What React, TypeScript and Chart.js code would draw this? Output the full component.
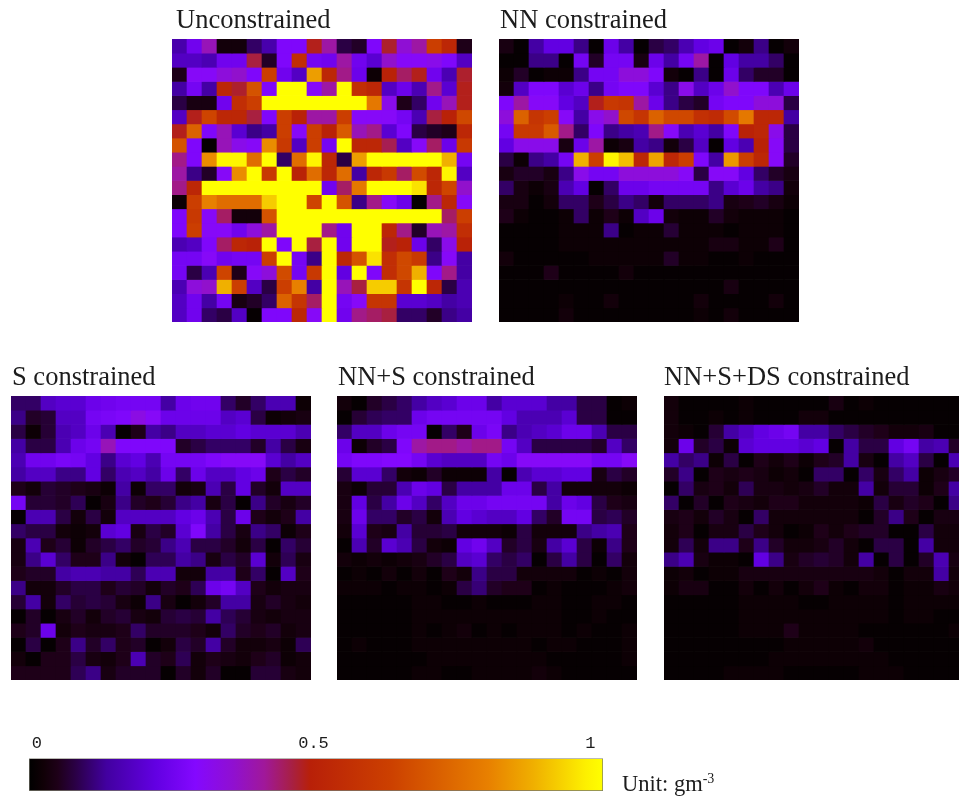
import React, { useEffect, useRef } from "react";
import { Chart, registerables } from "chart.js";

Chart.register(...registerables);

const columns = ["1","2","3","4","5","6","7","8","9","10","11","12","13","14","15","16","17","18","19","20"];

// Cell values in percent of 1 g/m3, row 0 is the top row.
const unconstrained = [
[15,25,38,3,3,10,15,28,28,48,40,8,6,28,47,35,40,62,52,5],
[18,18,16,25,25,46,6,28,55,26,25,40,25,20,36,30,30,32,28,18],
[5,30,30,34,36,28,62,25,18,85,52,42,24,2,50,44,48,25,16,47],
[14,26,14,52,47,68,28,100,100,30,40,100,55,52,18,24,16,42,20,48],
[8,4,4,25,55,62,100,100,100,100,100,100,100,78,32,5,10,25,38,48],
[18,48,64,52,52,46,28,62,50,40,40,62,30,30,30,26,16,46,50,65],
[48,72,28,38,20,12,14,62,30,62,50,70,38,42,20,28,8,6,5,52],
[68,28,1,38,32,30,82,60,18,62,26,100,52,52,45,18,30,44,24,60],
[42,28,82,98,98,75,100,10,75,98,52,8,85,100,100,100,100,100,88,26],
[40,12,6,30,82,100,60,100,50,75,52,75,14,52,60,44,66,52,98,18],
[42,52,100,100,100,100,100,100,100,100,25,44,78,100,100,100,95,52,64,36],
[2,62,80,75,75,75,92,100,100,64,100,68,12,42,30,24,1,42,52,30],
[28,60,30,44,3,3,68,100,100,100,100,100,100,100,100,100,100,100,44,62],
[28,62,30,30,25,34,40,100,100,100,42,25,100,100,52,42,6,38,40,55],
[16,18,28,44,52,50,100,28,100,46,100,25,100,100,48,50,24,10,32,50],
[26,26,30,25,26,26,62,100,26,12,100,52,68,95,55,65,60,12,30,14],
[26,8,16,64,5,30,34,66,26,60,100,22,100,28,55,65,88,28,42,14],
[16,34,36,88,62,18,8,62,80,14,100,38,46,92,92,58,100,52,8,16],
[18,25,14,26,4,6,10,72,58,44,100,26,30,58,58,20,20,18,14,16],
[18,25,10,8,18,1,28,28,52,30,100,25,42,44,46,10,10,6,12,14],
];

const nnConstrained = [
[4,1,14,22,22,12,1,24,14,1,8,10,16,22,24,1,3,12,1,3],
[1,1,12,12,1,26,6,26,26,4,24,14,26,40,1,22,14,14,10,1],
[2,6,1,2,2,12,26,26,34,34,28,3,1,12,1,24,10,6,6,1],
[3,18,28,28,20,24,12,26,28,28,20,12,32,18,24,36,28,28,16,24],
[28,40,30,30,22,18,48,60,58,40,24,12,8,6,26,28,28,34,34,8],
[34,72,58,62,30,14,32,36,65,58,72,65,65,56,54,66,78,52,52,14],
[26,60,60,70,42,10,28,12,14,16,42,30,16,20,14,28,50,52,32,8],
[22,32,32,32,4,24,40,2,4,14,12,3,8,18,1,22,16,50,30,8],
[8,2,12,14,26,88,62,98,90,52,86,52,62,28,14,84,62,52,30,6],
[4,6,6,4,12,32,26,26,34,34,34,34,30,8,30,30,22,10,6,4],
[10,4,2,4,16,22,1,10,24,24,26,26,26,26,12,20,24,14,12,3],
[4,4,1,3,10,10,5,8,12,10,3,10,10,10,12,4,5,6,4,2],
[5,2,1,1,2,10,2,5,2,18,24,3,2,2,6,3,2,2,2,1],
[1,1,1,1,2,2,2,12,1,2,2,7,2,2,2,1,2,2,2,1],
[1,1,1,1,2,2,2,2,2,2,2,2,2,2,4,4,2,2,5,1],
[3,1,1,1,1,1,2,2,2,2,2,6,2,2,1,1,2,1,1,1],
[1,1,1,5,1,1,1,1,3,1,1,1,1,1,1,1,1,1,1,1],
[1,1,1,1,1,1,1,1,1,1,1,1,1,1,1,4,1,1,1,1],
[1,1,1,1,2,1,1,3,1,1,1,1,1,3,1,1,1,1,3,1],
[1,1,1,1,3,1,1,1,1,1,1,1,1,2,1,3,1,1,1,1],
];

const sConstrained = [
[10,10,18,20,20,24,25,26,26,26,14,24,25,25,10,6,10,16,16,2],
[12,6,7,18,18,26,27,28,33,30,24,24,24,24,18,20,8,2,3,4],
[8,2,7,16,18,24,16,1,5,14,12,18,18,20,20,22,20,20,20,16],
[14,8,8,16,24,26,38,28,28,28,28,6,8,10,10,10,6,14,8,4],
[16,25,25,27,26,22,12,20,22,16,26,26,26,28,30,30,30,20,14,18],
[14,18,18,12,12,22,10,16,18,14,24,10,24,18,18,22,24,5,8,6],
[5,3,7,6,5,4,2,14,2,10,10,3,4,16,8,22,6,3,18,18],
[26,7,7,6,9,1,4,12,6,5,7,12,14,4,8,1,12,6,4,6],
[1,16,16,8,3,8,3,18,18,18,18,22,24,16,8,24,5,3,5,14],
[10,8,8,3,2,3,20,22,4,8,6,20,28,14,8,4,12,10,2,5],
[4,16,5,7,2,6,8,10,6,7,12,16,8,8,6,3,8,1,10,7],
[4,12,20,10,5,5,12,3,1,9,9,14,12,4,8,6,20,3,9,4],
[5,6,6,14,16,16,14,14,9,16,16,3,3,14,14,5,10,1,18,5],
[12,3,3,6,8,8,5,7,6,3,6,5,9,24,26,18,5,3,4,4],
[7,14,3,10,7,8,7,4,2,12,4,1,3,6,14,14,4,6,4,3],
[1,6,1,4,6,3,6,7,4,3,7,8,7,14,9,7,4,3,4,4],
[5,6,24,3,5,4,4,5,10,6,6,6,5,3,10,6,5,6,3,4],
[1,8,1,5,12,6,10,5,6,1,3,8,6,14,6,3,3,4,2,9],
[3,1,5,5,8,4,3,5,16,6,5,9,3,5,4,3,5,6,2,3],
[5,5,5,5,9,12,4,6,6,6,1,6,3,6,1,1,7,7,4,3],
];

const nnSConstrained = [
[3,1,6,8,10,14,18,20,24,24,14,20,20,20,14,14,8,8,1,2],
[1,7,9,10,10,24,26,26,26,26,26,22,16,16,16,20,8,8,1,1],
[10,18,18,24,26,26,1,10,5,24,27,12,16,18,20,24,24,16,8,8],
[24,2,6,8,28,40,42,42,40,42,42,26,18,8,8,8,8,6,18,10],
[26,28,28,29,29,26,20,18,18,18,26,24,30,30,30,30,30,26,26,30],
[7,20,20,10,3,2,6,2,2,2,14,1,16,20,20,22,22,4,8,6],
[4,2,7,7,16,24,22,8,14,14,14,24,24,8,14,3,3,3,3,2],
[4,22,8,14,24,18,10,18,24,24,26,26,26,26,14,24,22,8,5,4],
[4,24,10,10,6,8,3,16,22,20,18,18,22,10,6,26,26,8,9,6],
[3,20,5,4,14,7,7,8,3,3,3,2,8,3,3,3,12,14,16,5],
[1,16,6,20,16,8,3,2,22,25,18,6,8,4,14,20,8,2,12,5],
[3,2,3,2,3,4,6,8,18,20,10,8,10,1,8,14,8,1,10,3],
[1,2,1,3,1,3,1,5,3,12,8,8,3,3,3,3,1,2,1,3],
[2,2,2,1,2,2,1,2,8,11,6,5,5,1,2,1,1,1,2,3],
[1,1,1,1,1,2,2,1,1,2,1,1,1,2,2,1,1,2,2,1],
[1,1,1,1,1,2,2,2,2,2,2,2,2,2,2,1,1,2,1,1],
[1,1,1,1,1,2,1,2,3,1,2,1,2,2,2,1,2,1,1,2],
[1,2,1,1,1,2,2,2,2,2,2,2,2,1,2,2,1,1,1,2],
[1,1,1,1,1,1,2,2,2,2,2,2,2,2,1,1,1,1,1,2],
[1,1,1,1,1,2,2,1,1,2,2,2,2,3,2,1,1,1,1,1],
];

const nnSDsConstrained = [
[3,1,1,1,1,2,1,1,1,1,1,4,1,2,1,1,1,1,1,1],
[3,1,1,2,1,2,1,1,1,3,3,1,1,1,1,1,1,1,1,1],
[3,2,1,7,14,18,22,24,26,14,14,10,8,6,5,3,3,4,1,1],
[3,24,6,8,2,20,22,22,22,20,22,1,14,8,8,22,26,14,16,6],
[14,10,12,2,8,1,5,3,5,2,5,6,14,4,1,14,18,8,1,16],
[6,12,1,5,4,5,4,2,3,1,10,10,1,10,4,10,14,2,4,6],
[1,10,4,5,3,9,4,4,3,4,6,3,3,14,3,7,7,2,5,14],
[10,1,6,1,5,4,3,5,5,3,3,3,3,2,8,4,6,5,1,12],
[4,5,3,6,4,1,10,3,3,3,3,3,3,1,6,12,5,1,4,4],
[3,5,1,4,4,8,5,3,1,2,5,3,5,6,6,1,1,8,3,3],
[3,9,3,12,12,5,12,6,3,3,4,6,3,1,8,8,1,14,3,3],
[12,16,4,2,2,1,22,12,4,6,7,6,3,14,1,8,1,6,16,4],
[2,3,1,2,2,4,4,4,4,4,4,4,4,4,3,1,3,3,14,3],
[2,4,4,1,1,3,1,3,1,3,5,2,1,3,3,1,2,2,4,3],
[1,1,1,1,1,2,2,2,2,1,1,2,2,2,2,1,2,2,2,2],
[1,1,1,1,1,2,2,2,2,2,2,2,2,2,2,1,2,2,1,1],
[1,1,1,1,1,2,2,2,5,2,2,2,2,1,1,1,1,1,1,2],
[1,1,1,1,1,1,1,1,2,2,2,2,2,3,1,1,1,1,1,1],
[1,1,1,1,1,1,1,2,2,2,2,2,2,2,2,1,1,1,1,1],
[1,1,1,1,2,2,2,2,1,1,1,1,1,2,2,2,1,1,1,1],
];

const colorPositions = [0, 0.025, 0.05, 0.08, 0.135, 0.22, 0.29, 0.356, 0.41, 0.46, 0.49, 0.63, 0.8, 0.88, 0.97, 1];
const colorHex = ["#000000","#100006","#1e0018","#2a0044","#4200a0","#6200e2","#8408ff","#9010d0","#a0189a","#a82040","#b82008","#cc4000","#e88000","#f0b000","#fdf000","#ffff00"];

const colorbarTicks = [0, 0.5, 1];

const SERIF = "'Liberation Serif', 'Times New Roman', serif";
const MONO = "'Liberation Mono', monospace";
const TEXT = "#1c1c1c";

function rgb(hex: string) {
  return [1, 3, 5].map((i) => parseInt(hex.slice(i, i + 2), 16));
}

function colorFor(v: number) {
  const t = Math.max(0, Math.min(1, v));
  let i = 0;
  while (i < colorPositions.length - 2 && t > colorPositions[i + 1]) i++;
  const f = (t - colorPositions[i]) / (colorPositions[i + 1] - colorPositions[i]);
  const a = rgb(colorHex[i]);
  const b = rgb(colorHex[i + 1]);
  return `rgb(${a.map((c, k) => Math.round(c + (b[k] - c) * f)).join(",")})`;
}

const titleShift = {
  id: "titleShift",
  afterLayout(chart: any, _a: any, opts: any) {
    if (chart.titleBlock) chart.titleBlock.left += opts.dx || 0;
  },
};

function HeatPanel({ title, rows, left, top, height, dx }: { title: string; rows: number[][]; left: number; top: number; height: number; dx: number }) {
  const ref = useRef<HTMLCanvasElement>(null);
  useEffect(() => {
    const chart = new Chart(ref.current!, {
      type: "bar",
      data: {
        labels: columns,
        datasets: rows.map((row) => ({
          data: row.map(() => 1),
          backgroundColor: row.map((v) => colorFor(v / 100)),
          borderWidth: 0,
          barPercentage: 1,
          categoryPercentage: 1,
        })),
      },
      plugins: [titleShift],
      options: {
        responsive: false,
        animation: false,
        layout: { padding: 0 },
        events: [],
        scales: {
          x: { stacked: true, display: false, grid: { display: false } },
          y: { stacked: true, display: false, reverse: true, min: 0, max: rows.length, grid: { display: false } },
        },
        plugins: {
          legend: { display: false },
          tooltip: { enabled: false },
          titleShift: { dx },
          title: {
            display: true,
            text: title,
            align: "start",
            color: TEXT,
            font: { family: SERIF, size: 26.5, weight: "normal", lineHeight: 1.2 },
            padding: { top: 5, bottom: 2.2 },
          },
        },
      } as any,
    });
    return () => chart.destroy();
  }, []);
  return <canvas ref={ref} width={300} height={height} style={{ position: "absolute", left, top, display: "block", filter: "blur(0.55px)" }} />;
}

function Colorbar() {
  const ref = useRef<HTMLCanvasElement>(null);
  useEffect(() => {
    const chart = new Chart(ref.current!, {
      type: "bar",
      data: {
        labels: ["scale"],
        datasets: [
          {
            data: [[-0.014, 1.023]],
            barPercentage: 1,
            categoryPercentage: 1,
            borderWidth: 1,
            borderColor: "#77776a",
            borderSkipped: false,
            backgroundColor: (ctx: any) => {
              const c = ctx.chart;
              if (!c.chartArea) return "#000";
              const g = c.ctx.createLinearGradient(c.chartArea.left, 0, c.chartArea.right, 0);
              colorPositions.forEach((p, i) => g.addColorStop(p, colorHex[i]));
              return g;
            },
          },
        ],
      },
      options: {
        indexAxis: "y",
        responsive: false,
        animation: false,
        events: [],
        layout: { padding: { left: 29, right: 20 } },
        scales: {
          y: { display: false },
          x: {
            position: "top",
            min: -0.014,
            max: 1.023,
            border: { display: false },
            grid: { display: false, drawTicks: false },
            afterBuildTicks: (axis: any) => {
              axis.ticks = colorbarTicks.map((value) => ({ value }));
            },
            ticks: {
              color: TEXT,
              maxRotation: 0,
              autoSkip: false,
              padding: 5,
              font: { family: MONO, size: 17 },
              callback: (v: any) => String(v),
            },
          },
        },
        plugins: { legend: { display: false }, tooltip: { enabled: false } },
      } as any,
    });
    return () => chart.destroy();
  }, []);
  return <canvas ref={ref} width={623} height={63} style={{ position: "absolute", left: 0, top: 728, display: "block", filter: "blur(0.5px)" }} />;
}

export default function App() {
  return (
    <div style={{ position: "absolute", left: 0, top: 0, width: 959, height: 800, overflow: "hidden", background: "#fff" }}>
      <HeatPanel title="Unconstrained" rows={unconstrained} left={172} top={0} height={322} dx={4} />
      <HeatPanel title="NN constrained" rows={nnConstrained} left={499} top={0} height={322} dx={1} />
      <HeatPanel title="S constrained" rows={sConstrained} left={11} top={357} height={323} dx={1} />
      <HeatPanel title="NN+S constrained" rows={nnSConstrained} left={337} top={357} height={323} dx={1} />
      <HeatPanel title="NN+S+DS constrained" rows={nnSDsConstrained} left={664} top={357} height={323} dx={0} />
      <Colorbar />
      <div style={{ position: "absolute", left: 622, top: 771, font: `22.5px ${SERIF}`, color: TEXT, whiteSpace: "nowrap", filter: "blur(0.4px)" }}>
        Unit: gm<sup style={{ fontSize: 14, lineHeight: 0 }}>-3</sup>
      </div>
    </div>
  );
}
